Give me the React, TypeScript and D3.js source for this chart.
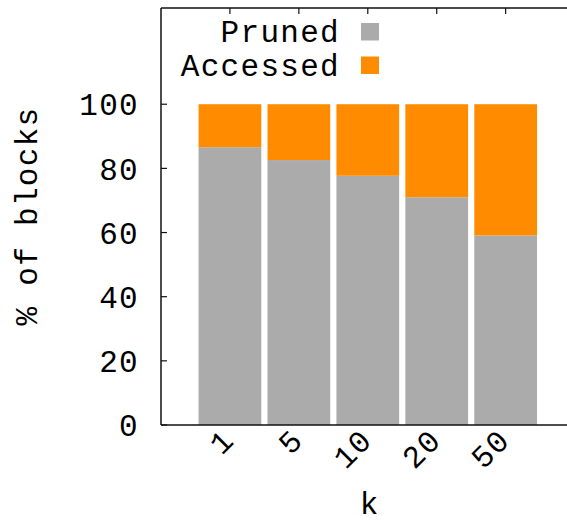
import React from "react";
import * as d3 from "d3";

const categories = ["1", "5", "10", "20", "50"];
const pruned = [86.6, 82.6, 77.7, 71.0, 59.1];
const accessed = [13.4, 17.4, 22.3, 29.0, 40.9];
const yTicks = [0, 20, 40, 60, 80, 100];
const seriesNames = ["Pruned", "Accessed"];
const seriesColors = ["#ababab", "#ff8c00"];

const W = 567;
const H = 525;
const FONT = "'Liberation Mono', 'Courier New', monospace";

export default function App() {
  const left = 161;
  const right = 567;
  const top = 8;
  const bottom = 425;
  const x = d3.scaleLinear().domain([-1, 4.89]).range([left, right]);
  const y = d3.scaleLinear().domain([0, 130]).range([bottom, top]);
  const barW = (x(1) - x(0)) * 0.91;
  const stackData = categories.map((c, i) => ({ c, Pruned: pruned[i], Accessed: accessed[i] }));
  const stack = d3.stack<any>().keys(seriesNames)(stackData);
  const fs = 31;
  const ls = 1.3;

  return (
    <svg width={W} height={H} style={{ position: "absolute", left: 0, top: 0, background: "#fff" }}>
      <rect x={0} y={0} width={W} height={H} fill="#fff" />
      {stack.map((layer, li) =>
        layer.map((d, i) => (
          <rect
            key={li + "-" + i}
            x={x(i) - barW / 2}
            y={y(d[1])}
            width={barW}
            height={y(d[0]) - y(d[1])}
            fill={seriesColors[li]}
          />
        ))
      )}
      {/* frame */}
      <line x1={left} x2={left} y1={top} y2={bottom} stroke="#111" strokeWidth={1.5} />
      <line x1={left} x2={right} y1={top} y2={top} stroke="#111" strokeWidth={1.5} />
      <line x1={left} x2={right} y1={bottom} y2={bottom} stroke="#111" strokeWidth={1.5} />
      {/* y ticks */}
      {yTicks.map((t) => (
        <g key={"y" + t}>
          <line x1={left} x2={left + 6} y1={y(t)} y2={y(t)} stroke="#111" strokeWidth={1.2} />
          <text
            x={left - 22}
            y={y(t)}
            dy="0.36em"
            textAnchor="end"
            fontFamily={FONT}
            fontSize={fs}
            letterSpacing={ls}
            fill="#000"
          >
            {t}
          </text>
        </g>
      ))}
      {/* top mirrored ticks */}
      {categories.map((c, i) => (
        <line key={"tt" + c} x1={x(i)} x2={x(i)} y1={top} y2={top + 6} stroke="#111" strokeWidth={1.2} />
      ))}
      {/* x tick labels */}
      {categories.map((c, i) => (
        <text
          key={"xl" + c}
          transform={`translate(${x(i) + 6},${bottom + 17}) rotate(-45)`}
          textAnchor="end"
          fontFamily={FONT}
          fontSize={fs}
          letterSpacing={ls}
          fill="#000"
        >
          {c}
        </text>
      ))}
      {/* axis titles */}
      <text x={369} y={514} textAnchor="middle" fontFamily={FONT} fontSize={fs} fill="#000">
        k
      </text>
      <text
        transform={`translate(37,216) rotate(-90)`}
        textAnchor="middle"
        fontFamily={FONT}
        fontSize={fs}
        letterSpacing={ls}
        fill="#000"
      >
        % of blocks
      </text>
      {/* legend */}
      {seriesNames.map((s, i) => (
        <g key={"lg" + s}>
          <text
            x={340}
            y={42 + i * 33.5}
            textAnchor="end"
            fontFamily={FONT}
            fontSize={fs}
            letterSpacing={ls}
            fill="#000"
          >
            {s}
          </text>
          <rect x={361} y={23 + i * 33.5} width={18} height={17.5} fill={seriesColors[i]} />
        </g>
      ))}
    </svg>
  );
}
